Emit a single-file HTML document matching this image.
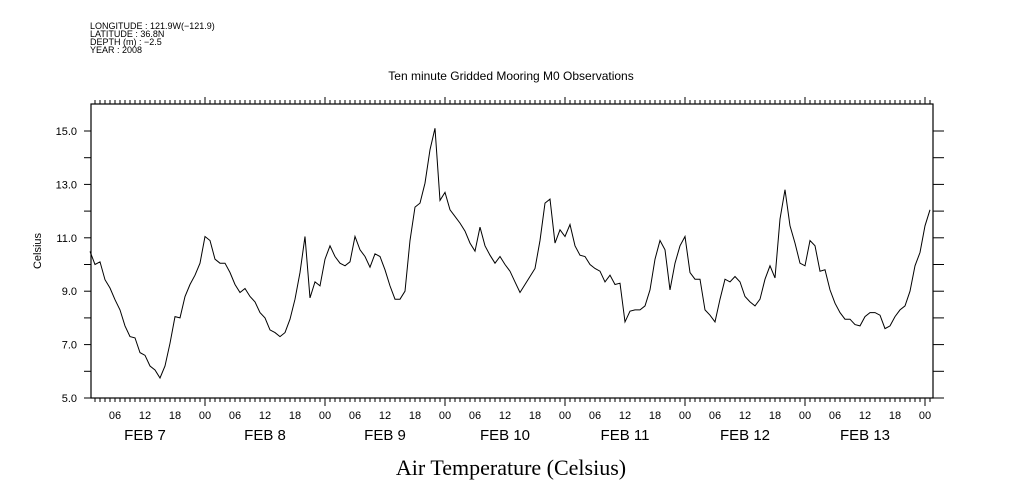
<!DOCTYPE html>
<html><head><meta charset="utf-8"><style>
body{margin:0;background:#fff}
svg{display:block;font-family:"Liberation Sans",sans-serif}
</style></head><body>
<svg id="chart" width="1009" height="504" viewBox="0 0 1009 504">
<g font-size="9" fill="#000">
<text x="90" y="29">LONGITUDE : 121.9W(−121.9)</text>
<text x="90" y="37">LATITUDE : 36.8N</text>
<text x="90" y="45">DEPTH (m) : −2.5</text>
<text x="90" y="53">YEAR : 2008</text>
</g>
<text x="511" y="80" font-size="12" text-anchor="middle">Ten minute Gridded Mooring M0 Observations</text>
<text x="511" y="475" font-size="22" text-anchor="middle" font-family="Liberation Serif, serif">Air Temperature (Celsius)</text>
<text transform="translate(41,251) rotate(-90)" font-size="11" text-anchor="middle">Celsius</text>
<rect x="91" y="104" width="842" height="294" fill="none" stroke="#000" stroke-width="1.2"/>
<g id="axes"></g>
<path id="line" fill="none" stroke="#000" stroke-width="1"/>
</svg>
<script>
const hours=[1,2,3,4,5,6,7,8,9,10,11,12,13,14,15,16,17,18,19,20,21,22,23,24,25,26,27,28,29,30,31,32,33,34,35,36,37,38,39,40,41,42,43,44,45,46,47,48,49,50,51,52,53,54,55,56,57,58,59,60,61,62,63,64,65,66,67,68,69,70,71,72,73,74,75,76,77,78,79,80,81,82,83,84,85,86,87,88,89,90,91,92,93,94,95,96,97,98,99,100,101,102,103,104,105,106,107,108,109,110,111,112,113,114,115,116,117,118,119,120,121,122,123,124,125,126,127,128,129,130,131,132,133,134,135,136,137,138,139,140,141,142,143,144,145,146,147,148,149,150,151,152,153,154,155,156,157,158,159,160,161,162,163,164,165,166,167,168,169];
const temps=[10.49,10.0,10.1,9.43,9.12,8.68,8.3,7.7,7.3,7.25,6.7,6.6,6.2,6.05,5.75,6.2,7.05,8.05,8.0,8.8,9.25,9.6,10.05,11.05,10.9,10.2,10.05,10.05,9.7,9.25,8.95,9.1,8.8,8.6,8.2,8.0,7.55,7.45,7.3,7.45,7.95,8.7,9.7,11.05,8.75,9.35,9.2,10.2,10.7,10.3,10.05,9.95,10.1,11.05,10.55,10.3,9.9,10.4,10.3,9.8,9.2,8.7,8.7,9.0,10.9,12.15,12.3,13.05,14.3,15.1,12.4,12.7,12.05,11.8,11.55,11.25,10.8,10.5,11.4,10.7,10.35,10.05,10.3,10.0,9.75,9.35,8.95,9.25,9.55,9.85,10.9,12.3,12.45,10.8,11.3,11.05,11.5,10.7,10.35,10.3,10.0,9.85,9.75,9.35,9.6,9.25,9.3,7.85,8.25,8.3,8.3,8.45,9.05,10.2,10.9,10.55,9.05,10.05,10.7,11.05,9.7,9.45,9.45,8.3,8.1,7.85,8.7,9.45,9.35,9.55,9.35,8.8,8.6,8.45,8.7,9.45,9.95,9.5,11.7,12.8,11.45,10.8,10.05,9.95,10.9,10.7,9.75,9.8,9.05,8.55,8.2,7.95,7.95,7.75,7.7,8.05,8.2,8.2,8.1,7.6,7.7,8.05,8.3,8.45,9.0,9.95,10.45,11.45,12.05];
const yTickLabels=["5.0","7.0","9.0","11.0","13.0","15.0"];
const dayLabels=["FEB  7","FEB  8","FEB  9","FEB 10","FEB 11","FEB 12","FEB 13"];
const hourLabels=["00","06","12","18"];
const X=h=>85+5*h, Y=v=>398-(v-5)*26.7;
const NS='http://www.w3.org/2000/svg';
const ax=document.getElementById('axes');
function mk(t,a){const e=document.createElementNS(NS,t);for(const k in a)e.setAttribute(k,a[k]);ax.appendChild(e);return e;}
for(let h=2;h<=169;h++){const x=X(h);const maj=h%24===0;
 const t1=mk('line',{x1:x,x2:x,y1:104,y2:maj?97:100,stroke:'#000'});
 
 
 const t2=mk('line',{x1:x,x2:x,y1:398,y2:maj?406:402,stroke:'#000'});
 
 
 if(h%6===0){const l=mk('text',{x:x,y:419,'font-size':11,'text-anchor':'middle'});l.textContent=hourLabels[(h%24)/6];
 
 }
}
dayLabels.forEach((d,i)=>{const l=mk('text',{x:X(12+24*i),y:440,'font-size':15,'text-anchor':'middle','xml:space':'preserve'});l.textContent=d;
 
 });
for(let v=5;v<=15;v++){const y=Y(v);
 const a=mk('line',{x1:91,x2:84,y1:y,y2:y,stroke:'#000'});
 
 
 const b=mk('line',{x1:933,x2:944,y1:y,y2:y,stroke:'#000'});
 
 }
yTickLabels.forEach(s=>{const l=mk('text',{x:77,y:Y(parseFloat(s))+4,'font-size':11,'text-anchor':'end'});l.textContent=s;
 
 });
document.getElementById('line').setAttribute('d',hours.map((h,i)=>(i?'L':'M')+X(h).toFixed(1)+' '+Y(temps[i]).toFixed(1)).join(''));
</script>
</body></html>
